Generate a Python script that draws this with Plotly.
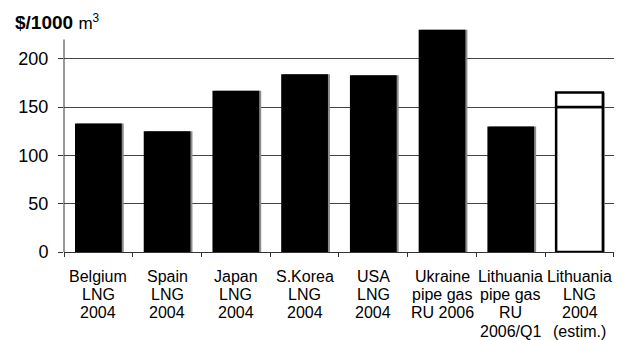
import plotly.graph_objects as go

category_lines = [["Belgium", "LNG", "2004"], ["Spain", "LNG", "2004"], ["Japan", "LNG", "2004"],
                  ["S.Korea", "LNG", "2004"], ["USA", "LNG", "2004"], ["Ukraine", "pipe gas", "RU 2006"],
                  ["Lithuania", "pipe gas", "RU", "2006/Q1"], ["Lithuania", "LNG", "2004", "(estim.)"]]
categories = [" ".join(l) for l in category_lines]
solid_values = [133, 125, 167, 184, 183, 230, 130, None]
estim_low = [None] * 7 + [150]
estim_high = [None] * 7 + [15]
shadow_values = [133, 125, 167, 184, 183, 230, 130, 165]
y_ticks = [0, 50, 100, 150, 200]

W = 0.68
px_per_cat = 550 / 8
shift = 2 / px_per_cat

fig = go.Figure()
fig.add_trace(go.Bar(x=categories, y=shadow_values, width=W, offset=-W / 2 + shift,
                     marker=dict(color="#8c8c8c", line=dict(width=0)), showlegend=False))
fig.add_trace(go.Bar(x=categories, y=solid_values, width=W, offset=-W / 2,
                     marker=dict(color="#000000", line=dict(width=0)), showlegend=False))
fig.add_trace(go.Bar(x=categories, y=estim_low, width=W, offset=-W / 2,
                     marker=dict(color="#ffffff", line=dict(color="#000000", width=2.5)), showlegend=False))
fig.add_trace(go.Bar(x=categories, y=estim_high, base=[None] * 7 + [150], width=W, offset=-W / 2,
                     marker=dict(color="#ffffff", line=dict(color="#000000", width=2.5)), showlegend=False))

annotations = [dict(text="<b>$/1000</b> <span style='font-size:17px'>m<sup>3</sup></span>",
                    xref="paper", yref="paper", x=-64 / 550 + 13 / 550, y=1, xanchor="left",
                    yanchor="middle", yshift=25 - 22, showarrow=False, font=dict(size=19))]
line_offsets = [24.2, 42.5, 60.8, 79.1]
for cat, lines in zip(categories, category_lines):
    for i, txt in enumerate(lines):
        annotations.append(dict(text=txt, x=cat, xref="x", yref="paper", y=0, xanchor="center",
                                yanchor="middle", yshift=-line_offsets[i], showarrow=False,
                                font=dict(size=16)))

fig.update_layout(
    barmode="overlay",
    width=624, height=340,
    margin=dict(l=64, r=10, t=25, b=88),
    paper_bgcolor="white", plot_bgcolor="white",
    font=dict(family="Liberation Sans, Arial, sans-serif", color="#000", size=16),
    xaxis=dict(tickson="boundaries", ticks="outside", ticklen=4, tickcolor="#333",
               showline=True, linecolor="#333", linewidth=1, showgrid=False,
               showticklabels=False),
    yaxis=dict(range=[0, 235], tickvals=y_ticks, ticks="outside", ticklen=5, tickcolor="#333",
               showgrid=True, gridcolor="#444", gridwidth=1, zeroline=False, showline=False,
               tickfont=dict(size=18), ticklabelstandoff=6),
    shapes=[dict(type="line", xref="paper", yref="y", x0=0, x1=0, y0=0, y1=220,
                 line=dict(color="#333", width=1))],
    annotations=annotations,
)
fig.write_html("out.html")
